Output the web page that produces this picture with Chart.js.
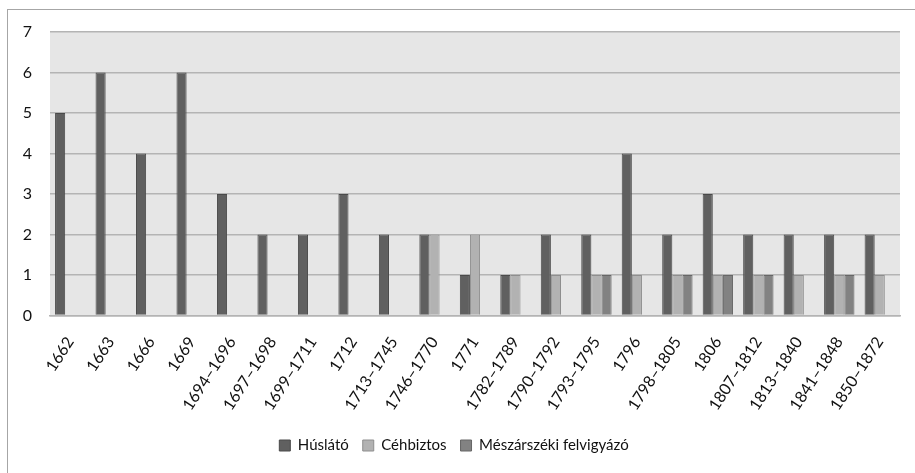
<!DOCTYPE html>
<html lang="hu">
<head>
    <meta charset="UTF-8">
    <title>Húslátók, céhbiztosok, felvigyázók</title>
    <script src="https://cdn.jsdelivr.net/npm/chart.js"></script>
    <style>
        html, body { margin: 0; padding: 0; background: #fff; }
        .frame {
            position: absolute;
            left: 7px;
            top: 9px;
            width: 920px;
            height: 480px;
            border-left: 1px solid #a6a6a6;
            border-top: 1px solid #a6a6a6;
        }
        .wrap {
            position: absolute;
            left: 0;
            top: 0;
            width: 915px;
            height: 473px;
        }
    </style>
</head>
<body>
    <div class="frame"></div>
    <div class="wrap">
        <canvas id="chart" width="915" height="473"></canvas>
    </div>
<script>
    // idoszakok
    const categories = ['1662', '1663', '1666', '1669', '1694–1696', '1697–1698', '1699–1711', '1712',
        '1713–1745', '1746–1770', '1771', '1782–1789', '1790–1792', '1793–1795', '1796', '1798–1805',
        '1806', '1807–1812', '1813–1840', '1841–1848', '1850–1872'];
    const huslato     = [5, 6, 4, 6, 3, 2, 2, 3, 2, 2, 1, 1, 2, 2, 4, 2, 3, 2, 2, 2, 2];
    const cehbiztos   = [0, 0, 0, 0, 0, 0, 0, 0, 0, 2, 2, 1, 1, 1, 1, 1, 1, 1, 1, 1, 1];
    const felvigyazo  = [0, 0, 0, 0, 0, 0, 0, 0, 0, 0, 0, 0, 0, 1, 0, 1, 1, 1, 0, 1, 0];
    const yTicks = [0, 1, 2, 3, 4, 5, 6, 7];

    const FONT = 'Lato, "Open Sans", sans-serif';

    // szurke hatter a rajzteruletnek
    const plotBg = {
        id: 'plotBg',
        beforeDraw(chart) {
            const a = chart.chartArea, ctx = chart.ctx;
            ctx.save();
            ctx.fillStyle = '#e6e6e6';
            ctx.fillRect(a.left, a.top, a.right - a.left, a.bottom - a.top);
            ctx.restore();
        }
    };

    new Chart(document.getElementById('chart').getContext('2d'), {
        type: 'bar',
        data: {
            labels: categories,
            datasets: [
                { label: 'Húslátó', data: huslato, backgroundColor: '#606060', borderColor: '#4a4a4a', borderWidth: 1 },
                { label: 'Céhbiztos', data: cehbiztos, backgroundColor: '#b2b2b2', borderColor: '#8e8e8e', borderWidth: 1 },
                { label: 'Mészárszéki felvigyázó', data: felvigyazo, backgroundColor: '#828282', borderColor: '#666666', borderWidth: 1 }
            ]
        },
        options: {
            responsive: false,
            animation: false,
            layout: { padding: { left: 8, right: 15, top: 32, bottom: 10 } },
            datasets: { bar: { categoryPercentage: 0.75, barPercentage: 1.0 } },
            scales: {
                x: {
                    grid: { display: false },
                    border: { color: '#b4b4b4', width: 1.5 },
                    ticks: {
                        color: '#111',
                        font: { family: FONT, size: 16 },
                        minRotation: 57,
                        maxRotation: 57,
                        autoSkip: false,
                        padding: 10
                    }
                },
                y: {
                    min: 0,
                    max: 7,
                    afterBuildTicks(axis) { axis.ticks = yTicks.map(v => ({ value: v })); },
                    afterFit(axis) { axis.width = 42; },
                    grid: { color: '#b4b4b4', lineWidth: 1.5, drawTicks: false },
                    border: { display: false },
                    ticks: {
                        color: '#111',
                        font: { family: FONT, size: 16 },
                        padding: 18
                    }
                }
            },
            plugins: {
                legend: {
                    position: 'bottom',
                    labels: {
                        color: '#111',
                        font: { family: FONT, size: 15 },
                        boxWidth: 11,
                        boxHeight: 11,
                        padding: 14
                    }
                },
                tooltip: { enabled: false }
            }
        },
        plugins: [plotBg]
    });
</script>
</body>
</html>
